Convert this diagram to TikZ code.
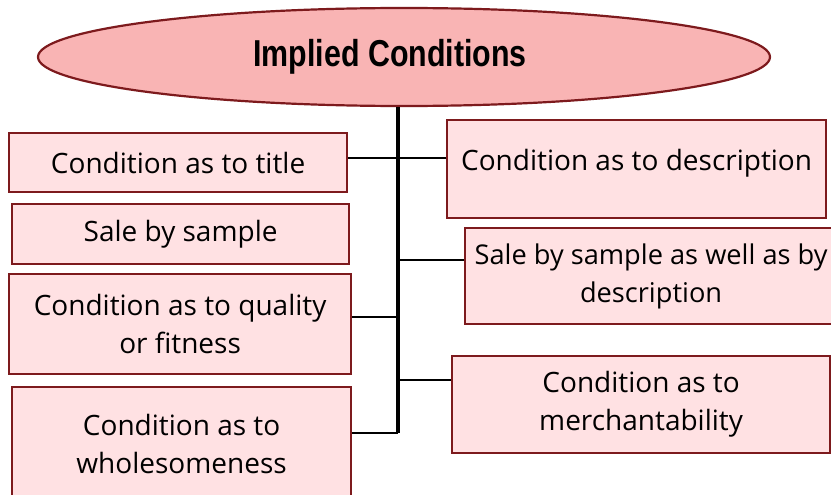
\documentclass[tikz,border=0pt]{standalone}
\usepackage{fontspec}
\setmainfont{Open Sans}
\newfontfamily\headfont{Liberation Sans}
\usetikzlibrary{shapes.geometric}
\definecolor{condred}{HTML}{7D1A1D}
\definecolor{condpink}{HTML}{FFE1E3}
\definecolor{headpink}{HTML}{F9B4B4}
\begin{document}
\begin{tikzpicture}[x=1pt,y=-1pt,
  cond/.style={draw=condred,fill=condpink,line width=2.2pt,anchor=north west,inner sep=0pt,align=center,font=\fontsize{28}{38}\selectfont},
  head/.style={ellipse,draw=condred,fill=headpink,line width=2.2pt,minimum width=732pt,minimum height=98pt,inner sep=0pt,font=\headfont\bfseries\fontsize{37.5}{40}\selectfont},
  branch/.style={line width=2.5pt}]
\path[use as bounding box,clip] (0,0) rectangle (831,495);
\fill[white] (0,0) rectangle (831,495);

\node[head] (implied) at (404,57) {\scalebox{0.81}[1]{Implied Conditions}\kern28pt};

\node[cond,minimum width=338pt,minimum height=59pt] (title) at (8,132) {Condition as to title};
\node[cond,minimum width=337pt,minimum height=60pt] (sample) at (11,203) {Sale by sample};
\node[cond,minimum width=342pt,minimum height=100pt] (quality) at (8,273) {Condition as to quality\\or fitness};
\node[cond,minimum width=339pt,minimum height=114pt] (whole) at (11,386) {Condition as to\\wholesomeness};
\node[cond,minimum width=379pt,text height=50pt,text depth=48pt] (desc) at (446,119) {Condition as to description};
\node[cond,minimum width=372pt,minimum height=96pt,font=\fontsize{27.2}{38}\selectfont] (bysample) at (464,227) {Sale by sample as well as by\\description};
\node[cond,minimum width=378pt,minimum height=97pt] (merch) at (451,355) {Condition as to\\merchantability};

\coordinate (trunk) at (398,432);
\draw[line width=3.5pt] (implied.south -| trunk) -- ([yshift=-1.25pt]trunk);
\draw[branch] ([yshift=4.5pt]title.east) -- ([yshift=4.5pt]title.east -| trunk);
\draw[branch] ([yshift=11pt]desc.west) -- ([yshift=11pt]desc.west -| trunk);
\draw[branch] ([yshift=16pt]bysample.west) -- ([yshift=16pt]bysample.west -| trunk);
\draw[branch] ([yshift=7pt]quality.east) -- ([yshift=7pt]quality.east -| trunk);
\draw[branch] ([yshift=24.5pt]merch.west) -- ([yshift=24.5pt]merch.west -| trunk);
\draw[branch] ([yshift=11pt]whole.east) -- ([yshift=11pt]whole.east -| trunk);
\end{tikzpicture}
\end{document}
